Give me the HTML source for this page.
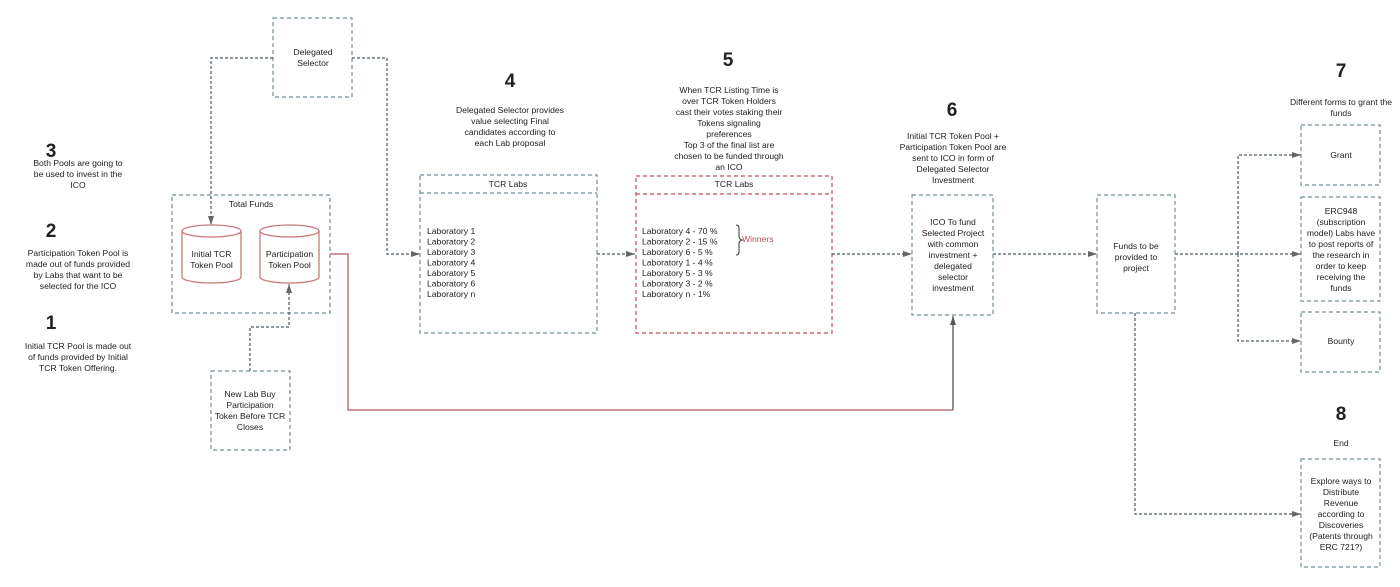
<!DOCTYPE html>
<html><head><meta charset="utf-8"><style>
html,body{margin:0;padding:0;background:#fff;width:1400px;height:587px;overflow:hidden}
svg text{font-family:"Liberation Sans",sans-serif;fill:#222}
.t{font-size:8.6px;text-anchor:middle}
.l{font-size:8.6px}
.n{font-size:19px;font-weight:bold;text-anchor:middle}
.box{fill:none;stroke:#6f8f99;stroke-width:1.2;stroke-dasharray:4,3}
.ln{fill:none;stroke:#4a5a66;stroke-width:1.2;stroke-dasharray:3,2}
</style></head><body>
<svg width="1400" height="587" viewBox="0 0 1400 587" xmlns="http://www.w3.org/2000/svg">
<defs>
<marker id="a" markerWidth="10" markerHeight="8" refX="9" refY="4" orient="auto" markerUnits="userSpaceOnUse">
<path d="M0,1 L9,4 L0,7 Z" fill="#666"/></marker>
<marker id="ar" markerWidth="10" markerHeight="8" refX="9" refY="4" orient="auto" markerUnits="userSpaceOnUse">
<path d="M0,1 L9,4 L0,7 Z" fill="#555"/></marker>
</defs>

<!-- numbers -->
<text class="n" x="51" y="157">3</text>
<text class="n" x="51" y="237">2</text>
<text class="n" x="51" y="329">1</text>
<text class="n" x="510" y="87">4</text>
<text class="n" x="728" y="66">5</text>
<text class="n" x="952" y="116">6</text>
<text class="n" x="1341" y="77">7</text>
<text class="n" x="1341" y="420">8</text>

<!-- left texts -->
<text class="t" x="78" y="166">Both Pools are going to</text>
<text class="t" x="78" y="177">be used to invest in the</text>
<text class="t" x="78" y="188">ICO</text>
<text class="t" x="78" y="256">Participation Token Pool is</text>
<text class="t" x="78" y="267">made out of funds provided</text>
<text class="t" x="78" y="278">by Labs that want to be</text>
<text class="t" x="78" y="289">selected for the ICO</text>
<text class="t" x="78" y="349">Initial TCR Pool is made out</text>
<text class="t" x="78" y="360">of funds provided by Initial</text>
<text class="t" x="78" y="371">TCR Token Offering.</text>

<!-- step 4 text -->
<text class="t" x="510" y="113">Delegated Selector provides</text>
<text class="t" x="510" y="124">value selecting Final</text>
<text class="t" x="510" y="135">candidates according to</text>
<text class="t" x="510" y="146">each Lab proposal</text>
<!-- step 5 text -->
<text class="t" x="729" y="93">When TCR Listing Time is</text>
<text class="t" x="729" y="104">over TCR Token Holders</text>
<text class="t" x="729" y="115">cast their votes staking their</text>
<text class="t" x="729" y="126">Tokens signaling</text>
<text class="t" x="729" y="137">preferences</text>
<text class="t" x="729" y="148">Top 3 of the final list are</text>
<text class="t" x="729" y="159">chosen to be funded through</text>
<text class="t" x="729" y="170">an ICO</text>
<!-- step 6 text -->
<text class="t" x="953" y="139">Initial TCR Token Pool +</text>
<text class="t" x="953" y="150">Participation Token Pool are</text>
<text class="t" x="953" y="161">sent to ICO in form of</text>
<text class="t" x="953" y="172">Delegated Selector</text>
<text class="t" x="953" y="183">Investment</text>
<!-- 7 / 8 text -->
<text class="t" x="1341" y="105">Different forms to grant the</text>
<text class="t" x="1341" y="116">funds</text>
<text class="t" x="1341" y="446">End</text>

<!-- Delegated selector -->
<rect class="box" x="273" y="18" width="79" height="79"/>
<text class="t" x="313" y="55">Delegated</text>
<text class="t" x="313" y="66">Selector</text>

<!-- Total funds -->
<rect class="box" x="172" y="195" width="158" height="118"/>
<text class="t" x="251" y="207">Total Funds</text>
<g fill="#fff" stroke="#c87878" stroke-width="1.3">
<path d="M182,231 L182,277 A29.5,6 0 0 0 241,277 L241,231"/>
<ellipse cx="211.5" cy="231" rx="29.5" ry="6"/>
<path d="M260,231 L260,277 A29.5,6 0 0 0 319,277 L319,231"/>
<ellipse cx="289.5" cy="231" rx="29.5" ry="6"/>
</g>
<text class="t" x="211.5" y="257">Initial TCR</text>
<text class="t" x="211.5" y="268">Token Pool</text>
<text class="t" x="289.5" y="257">Participation</text>
<text class="t" x="289.5" y="268">Token Pool</text>

<!-- new lab -->
<rect class="box" x="211" y="371" width="79" height="79"/>
<text class="t" x="250" y="397">New Lab Buy</text>
<text class="t" x="250" y="408">Participation</text>
<text class="t" x="250" y="419">Token Before TCR</text>
<text class="t" x="250" y="430">Closes</text>

<!-- TCR labs 1 -->
<rect class="box" x="420" y="175" width="177" height="158"/>
<line class="box" x1="420" y1="193" x2="597" y2="193"/>
<text class="t" x="508" y="187">TCR Labs</text>
<g class="l">
<text class="l" x="427" y="234">Laboratory 1</text>
<text class="l" x="427" y="244.5">Laboratory 2</text>
<text class="l" x="427" y="255">Laboratory 3</text>
<text class="l" x="427" y="265.5">Laboratory 4</text>
<text class="l" x="427" y="276">Laboratory 5</text>
<text class="l" x="427" y="286.5">Laboratory 6</text>
<text class="l" x="427" y="297">Laboratory n</text>
</g>

<!-- TCR labs 2 -->
<rect x="636" y="176" width="196" height="157" fill="none" stroke="#c0505a" stroke-width="1.2" stroke-dasharray="4,3"/>
<line x1="636" y1="194" x2="832" y2="194" stroke="#c0505a" stroke-width="1.2" stroke-dasharray="4,3"/>
<text class="t" x="734" y="187">TCR Labs</text>
<text class="l" x="642" y="234">Laboratory 4 - 70 %</text>
<text class="l" x="642" y="244.5">Laboratory 2 - 15 %</text>
<text class="l" x="642" y="255">Laboratory 6 - 5 %</text>
<text class="l" x="642" y="265.5">Laboratory 1 - 4 %</text>
<text class="l" x="642" y="276">Laboratory 5 - 3 %</text>
<text class="l" x="642" y="286.5">Laboratory 3 - 2 %</text>
<text class="l" x="642" y="297">Laboratory n -  1%</text>
<path d="M736,225 Q739,225 739,228 L739,236 Q739,239 742,240 Q739,241 739,244 L739,252 Q739,255 736,255" fill="none" stroke="#333" stroke-width="1"/>
<text x="742" y="242" style="font-size:8.6px;fill:#b5505a">Winners</text>

<!-- ICO -->
<rect class="box" x="912" y="195" width="81" height="120"/>
<text class="t" x="953" y="225">ICO To fund</text>
<text class="t" x="953" y="236">Selected Project</text>
<text class="t" x="953" y="247">with common</text>
<text class="t" x="953" y="258">investment +</text>
<text class="t" x="953" y="269">delegated</text>
<text class="t" x="953" y="280">selector</text>
<text class="t" x="953" y="291">investment</text>

<!-- Funds -->
<rect class="box" x="1097" y="195" width="78" height="118"/>
<text class="t" x="1136" y="249">Funds to be</text>
<text class="t" x="1136" y="260">provided to</text>
<text class="t" x="1136" y="271">project</text>

<!-- right boxes -->
<rect class="box" x="1301" y="125" width="79" height="60"/>
<text class="t" x="1341" y="158">Grant</text>
<rect class="box" x="1301" y="197" width="79" height="104"/>
<text class="t" x="1341" y="214">ERC948</text>
<text class="t" x="1341" y="225">(subscription</text>
<text class="t" x="1341" y="236">model) Labs have</text>
<text class="t" x="1341" y="247">to post reports of</text>
<text class="t" x="1341" y="258">the research in</text>
<text class="t" x="1341" y="269">order to keep</text>
<text class="t" x="1341" y="280">receiving the</text>
<text class="t" x="1341" y="291">funds</text>
<rect class="box" x="1301" y="312" width="79" height="60"/>
<text class="t" x="1341" y="344">Bounty</text>
<rect class="box" x="1301" y="459" width="79" height="108"/>
<text class="t" x="1341" y="484">Explore ways to</text>
<text class="t" x="1341" y="495">Distribute</text>
<text class="t" x="1341" y="506">Revenue</text>
<text class="t" x="1341" y="517">according to</text>
<text class="t" x="1341" y="528">Discoveries</text>
<text class="t" x="1341" y="539">(Patents through</text>
<text class="t" x="1341" y="550">ERC 721?)</text>

<!-- connectors -->
<polyline class="ln" points="273,58 211,58 211,225" marker-end="url(#a)"/>
<polyline class="ln" points="352,58 387,58 387,254 420,254" marker-end="url(#a)"/>
<polyline class="ln" points="250,371 250,327 289,327 289,284" marker-end="url(#a)"/>
<polyline class="ln" points="597,254 635,254" marker-end="url(#a)"/>
<polyline class="ln" points="832,254 912,254" marker-end="url(#a)"/>
<polyline class="ln" points="993,254 1097,254" marker-end="url(#a)"/>
<polyline class="ln" points="1175,254 1301,254" marker-end="url(#a)"/>
<polyline class="ln" points="1238,254 1238,155 1301,155" marker-end="url(#a)"/>
<polyline class="ln" points="1238,254 1238,341 1301,341" marker-end="url(#a)"/>
<polyline class="ln" points="1135,313 1135,514 1301,514" marker-end="url(#a)"/>
<polyline points="330,254 348,254 348,410 953,410" fill="none" stroke="#c0707a" stroke-width="1.5"/>
<polyline points="953,410 953,316" fill="none" stroke="#555" stroke-width="1.3" marker-end="url(#ar)"/>
</svg>
</body></html>
